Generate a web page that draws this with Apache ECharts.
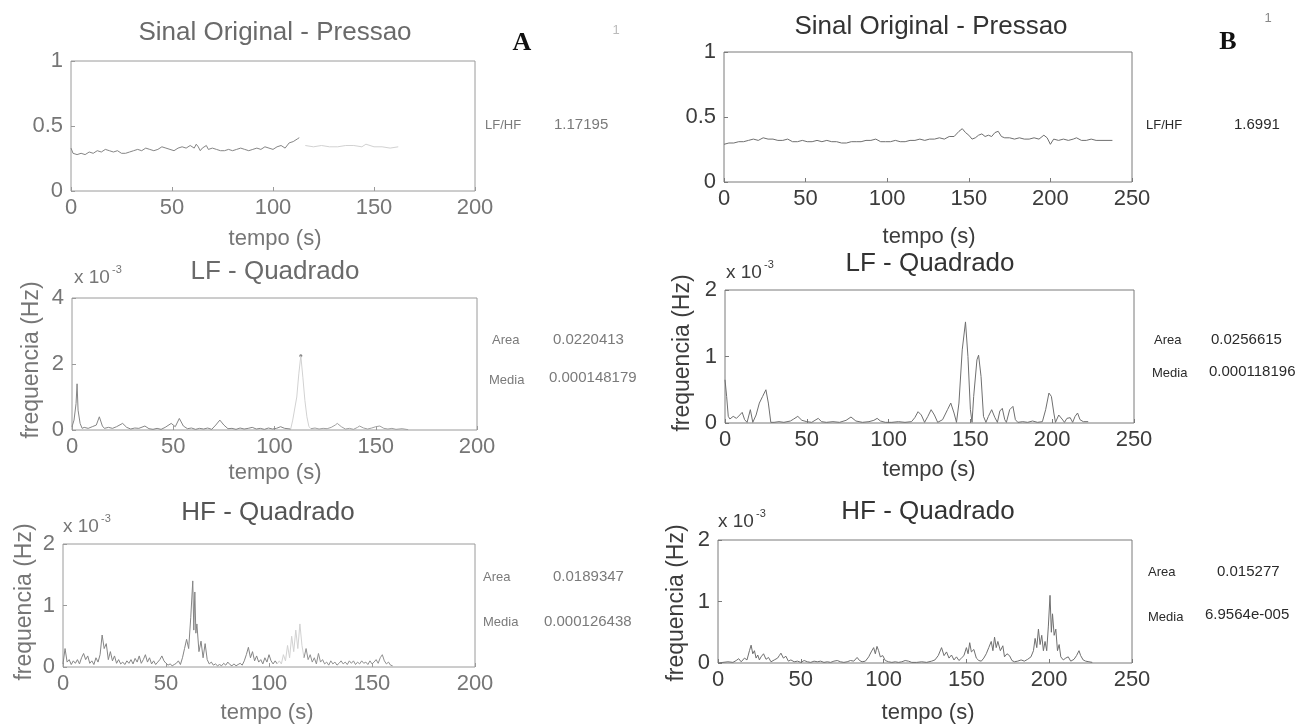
<!DOCTYPE html>
<html>
<head>
<meta charset="utf-8">
<script src="https://cdn.jsdelivr.net/npm/echarts@6/dist/echarts.min.js"></script>
<style>html,body{margin:0;padding:0;background:#fff;}#c{width:1304px;height:727px;}</style>
</head>
<body>
<div id="c"></div>
<script>
// ---------- tick labels ----------
const ticksX_A = [0, 50, 100, 150, 200];
const ticksX_B = [0, 50, 100, 150, 200, 250];
const ticksY_press = [0, 0.5, 1];
const ticksY_lfA = [0, 2, 4];
const ticksY_hf = [0, 1, 2];

// ---------- panel A : pressure (t s, value) ----------
const pressA_dark = [[0,0.33],[1,0.29],[3,0.28],[5,0.29],[7,0.28],[9,0.30],[11,0.29],[13,0.31],[15,0.30],[17,0.32],[19,0.31],[21,0.30],[23,0.31],[25,0.29],[27,0.29],[29,0.30],[31,0.31],[33,0.32],[35,0.31],[37,0.33],[39,0.32],[41,0.31],[43,0.32],[45,0.34],[47,0.33],[49,0.32],[51,0.31],[53,0.33],[55,0.34],[57,0.33],[59,0.35],[61,0.33],[62,0.36],[63,0.34],[64,0.31],[65,0.33],[67,0.35],[68,0.32],[70,0.33],[72,0.32],[74,0.31],[76,0.31],[78,0.32],[80,0.31],[82,0.32],[84,0.33],[86,0.32],[88,0.31],[90,0.32],[92,0.33],[94,0.32],[96,0.34],[98,0.33],[100,0.32],[102,0.34],[104,0.35],[106,0.33],[108,0.37],[110,0.38],[112,0.40],[113,0.41]];
const pressA_light = [[116,0.35],[120,0.34],[124,0.35],[128,0.34],[132,0.34],[136,0.35],[140,0.35],[144,0.34],[146,0.36],[148,0.35],[150,0.34],[154,0.34],[158,0.33],[162,0.34]];

// ---------- panel A : LF squared (x 1e-3) ----------
const lfA_dark1 = [[0,0.1],[1,0.3],[2,0.8],[2.5,1.4],[3,0.6],[4,0.2],[5,0.05],[6,0.08],[8,0.05],[10,0.1],[12,0.15],[13.5,0.4],[15,0.12],[16,0.05],[18,0.08],[20,0.05],[22,0.1],[25,0.2],[27,0.08],[29,0.03],[31,0.06],[33,0.05],[36,0.12],[38,0.04],[40,0.02],[42,0.05],[44,0.02],[46,0.08],[49,0.2],[51,0.1],[53,0.35],[55,0.12],[57,0.04],[59,0.06],[61,0.02],[63,0.05],[65,0.03],[67,0.06],[69,0.02],[71,0.15],[73,0.3],[75,0.15],[77,0.04],[79,0.05],[81,0.02],[83,0.06],[85,0.03],[87,0.05],[89,0.08],[91,0.03],[93,0.05],[95,0.02],[97,0.06],[99,0.03],[101,0.05],[103,0.1],[105,0.05],[108,0.03]];
const lfA_light = [[108,0.03],[109,0.3],[111,1.0],[112,1.7],[113,2.25],[114,1.6],[115,0.9],[116,0.4],[117,0.1],[118,0.04]];
const lfA_dark2 = [[118,0.04],[120,0.06],[122,0.03],[124,0.05],[126,0.04],[128,0.08],[130,0.15],[131,0.2],[133,0.1],[135,0.03],[137,0.05],[139,0.02],[141,0.08],[142,0.12],[144,0.06],[146,0.03],[148,0.06],[150,0.1],[152,0.12],[154,0.05],[156,0.03],[158,0.05],[160,0.02],[163,0.04],[166,0.01]];
const lfA_peakDot = [[113,2.25]];

// ---------- panel A : HF squared (x 1e-3) ----------
const hfA_dark1 = [[0,0.05],[1,0.3],[2,0.08],[3,0.12],[4,0.04],[5,0.1],[6,0.06],[7,0.12],[8,0.05],[9,0.15],[10,0.22],[11,0.12],[12,0.18],[13,0.06],[14,0.1],[15,0.04],[16,0.15],[17,0.08],[18,0.2],[19,0.52],[20,0.3],[21,0.38],[22,0.12],[23,0.25],[24,0.1],[25,0.18],[26,0.06],[27,0.12],[28,0.05],[29,0.08],[30,0.04],[31,0.1],[32,0.06],[33,0.12],[34,0.05],[35,0.14],[36,0.08],[37,0.18],[38,0.06],[39,0.12],[40,0.2],[41,0.08],[42,0.15],[43,0.05],[44,0.1],[45,0.04],[46,0.08],[47,0.12],[48,0.18],[49,0.1],[50,0.06],[51,0.03],[52,0.05],[53,0.02],[54,0.04],[55,0.06],[56,0.1],[57,0.04],[58,0.15],[59,0.3],[60,0.45],[61,0.3],[62,0.8],[63,1.4],[63.5,0.6],[64,1.22],[64.5,0.55],[65,0.7],[66,0.25],[67,0.42],[68,0.15],[69,0.38],[70,0.12],[71,0.05],[72,0.08],[73,0.03],[74,0.05],[75,0.02],[76,0.04],[77,0.02],[78,0.06],[79,0.03],[80,0.08],[81,0.04],[82,0.02],[83,0.05],[84,0.02],[85,0.04],[86,0.06],[87,0.03],[88,0.1],[89,0.2],[90,0.32],[91,0.15],[92,0.25],[93,0.1],[94,0.18],[95,0.08],[96,0.12],[97,0.05],[98,0.15],[99,0.08],[100,0.2],[101,0.1],[102,0.05],[103,0.1],[104,0.05]];
const hfA_light = [[104,0.05],[105,0.1],[106,0.05],[107,0.2],[108,0.1],[109,0.35],[110,0.15],[111,0.5],[112,0.25],[113,0.6],[114,0.3],[115,0.7],[116,0.35],[117,0.15]];
const hfA_dark2 = [[117,0.15],[118,0.3],[119,0.12],[120,0.2],[121,0.08],[122,0.15],[123,0.05],[124,0.22],[125,0.08],[126,0.12],[127,0.05],[128,0.08],[129,0.03],[130,0.1],[131,0.05],[132,0.08],[133,0.03],[134,0.06],[135,0.1],[136,0.05],[137,0.08],[138,0.04],[139,0.1],[140,0.06],[141,0.1],[142,0.04],[143,0.08],[144,0.05],[145,0.1],[146,0.06],[147,0.08],[148,0.04],[149,0.1],[150,0.05],[151,0.08],[152,0.12],[153,0.06],[154,0.15],[155,0.2],[156,0.1],[157,0.05],[158,0.08],[159,0.03],[160,0.02]];

// ---------- panel B : pressure ----------
const pressB = [[0,0.29],[3,0.30],[6,0.30],[9,0.31],[12,0.31],[15,0.32],[18,0.33],[21,0.32],[24,0.34],[27,0.33],[30,0.33],[33,0.32],[36,0.32],[39,0.33],[42,0.31],[45,0.31],[48,0.32],[51,0.31],[54,0.31],[57,0.32],[60,0.31],[63,0.32],[66,0.31],[69,0.31],[72,0.30],[75,0.30],[78,0.31],[81,0.31],[84,0.31],[87,0.32],[90,0.32],[93,0.33],[96,0.31],[99,0.31],[102,0.31],[105,0.32],[108,0.31],[111,0.31],[114,0.32],[117,0.32],[120,0.33],[123,0.32],[126,0.33],[129,0.33],[132,0.34],[135,0.33],[138,0.35],[141,0.35],[144,0.39],[146,0.41],[148,0.38],[150,0.36],[152,0.33],[154,0.34],[156,0.36],[158,0.37],[160,0.35],[162,0.36],[164,0.35],[166,0.38],[168,0.39],[170,0.35],[172,0.34],[175,0.34],[178,0.33],[181,0.34],[184,0.33],[187,0.33],[190,0.34],[193,0.33],[196,0.36],[198,0.34],[200,0.29],[202,0.33],[205,0.32],[208,0.33],[211,0.32],[214,0.33],[216,0.34],[219,0.32],[222,0.32],[225,0.33],[228,0.32],[231,0.32],[238,0.32]];

// ---------- panel B : LF squared (x 1e-3) ----------
const lfB = [[0,0.65],[1,0.4],[2,0.1],[3,0.06],[5,0.1],[7,0.07],[9,0.12],[10.5,0.16],[12,0.05],[13.5,0.01],[15.5,0.2],[17,0.01],[19,0.12],[21,0.3],[23,0.4],[25,0.5],[26.5,0.3],[28,0.01],[30,0.01],[33,0.02],[36,0.01],[40,0.03],[42,0.06],[44.5,0.1],[47,0.04],[50,0.02],[53,0.01],[55,0.04],[57,0.07],[59,0.02],[62,0.01],[66,0.02],[70,0.01],[74,0.04],[77,0.09],[80,0.03],[84,0.01],[88,0.02],[91,0.04],[93,0.07],[95,0.03],[98,0.01],[102,0.01],[106,0.02],[110,0.01],[114,0.02],[116,0.08],[118,0.17],[120,0.12],[122,0.01],[124,0.1],[126,0.2],[128,0.12],[130,0.01],[133,0.05],[136,0.2],[138,0.3],[140,0.15],[141.5,0.01],[143,0.3],[145,1.1],[147,1.52],[148.5,1.0],[150,0.2],[151,0.01],[152,0.4],[154,0.95],[155,1.02],[156.5,0.7],[158,0.1],[159.5,0.01],[161,0.1],[163,0.2],[165,0.08],[166.5,0.01],[168,0.18],[169.5,0.22],[171,0.05],[172,0.01],[174,0.2],[176,0.25],[177.5,0.05],[179,0.01],[182,0.02],[185,0.01],[188,0.03],[191,0.01],[194,0.02],[196,0.2],[198,0.45],[199.5,0.4],[201,0.15],[202,0.01],[204,0.12],[206,0.06],[207.5,0.01],[209,0.07],[211,0.08],[212.5,0.01],[214,0.1],[215.5,0.15],[217,0.05],[219,0.02],[222,0.02]];

// ---------- panel B : HF squared (x 1e-3) ----------
const hfB = [[0,0.0],[3,0.01],[6,0.02],[9,0.01],[11,0.04],[12.5,0.07],[14,0.02],[16,0.08],[17.5,0.05],[19,0.2],[20,0.29],[21,0.15],[22,0.2],[23,0.08],[24,0.13],[25,0.05],[26,0.1],[27.5,0.15],[29,0.06],[30.5,0.09],[32,0.02],[34,0.05],[36,0.08],[37,0.12],[38,0.16],[39.5,0.08],[41,0.11],[42.5,0.03],[44,0.05],[46,0.02],[48,0.03],[50,0.01],[52,0.04],[54,0.02],[56,0.01],[58,0.03],[60,0.02],[61,0.05],[62,0.03],[64,0.01],[66,0.02],[68,0.01],[70,0.03],[72,0.04],[74,0.02],[76,0.01],[78,0.02],[80,0.04],[82,0.03],[84,0.09],[85.5,0.04],[87,0.02],[89,0.03],[91,0.1],[92.5,0.18],[94,0.25],[95,0.15],[96,0.27],[97,0.2],[98,0.1],[99.5,0.12],[101,0.04],[103,0.02],[105,0.01],[107,0.02],[109,0.01],[111,0.02],[113,0.04],[115,0.03],[117,0.01],[120,0.01],[123,0.02],[126,0.01],[129,0.03],[131,0.05],[133,0.12],[135,0.25],[136.5,0.12],[138,0.18],[139.5,0.08],[141,0.13],[142.5,0.05],[144,0.1],[145.5,0.04],[147,0.08],[148.5,0.12],[150,0.25],[151,0.15],[152,0.33],[153,0.18],[154.5,0.22],[156,0.08],[157.5,0.04],[159,0.03],[160.5,0.08],[162,0.15],[163.5,0.25],[165,0.35],[166,0.2],[167,0.42],[168,0.25],[169,0.35],[170.5,0.2],[172,0.28],[173,0.1],[174.5,0.15],[176,0.12],[177.5,0.04],[179,0.02],[181,0.03],[183,0.05],[185,0.03],[187,0.06],[189,0.1],[190.5,0.2],[191.5,0.4],[192.5,0.25],[193.5,0.55],[194.5,0.3],[195.5,0.45],[196.5,0.2],[197.5,0.35],[198.5,0.2],[199.5,0.6],[200.5,1.1],[201.3,0.5],[202,0.8],[203,0.45],[204,0.55],[205,0.2],[206,0.3],[207,0.1],[208.5,0.05],[210,0.08],[211.5,0.1],[213,0.03],[215,0.06],[216.5,0.12],[218,0.2],[219,0.12],[220.5,0.05],[222,0.03],[224,0.02],[226,0.01]];

// ---------- side statistics ----------
const statsA = { lfhf: '1.17195', lfArea: '0.0220413', lfMedia: '0.000148179', hfArea: '0.0189347', hfMedia: '0.000126438' };
const statsB = { lfhf: '1.6991', lfArea: '0.0256615', lfMedia: '0.000118196', hfArea: '0.015277', hfMedia: '6.9564e-005' };

// ---------- layout ----------
const boxes = [
  {left:71,  top:61,  width:404, height:130},  // A1
  {left:72,  top:298, width:405, height:132},  // A2
  {left:63,  top:544, width:412, height:123},  // A3
  {left:724, top:52,  width:408, height:130},  // B1
  {left:725, top:290, width:409, height:133},  // B2
  {left:718, top:540, width:414, height:123}   // B3
];
const xt = [ticksX_A, ticksX_A, ticksX_A, ticksX_B, ticksX_B, ticksX_B];
const yt = [ticksY_press, ticksY_lfA, ticksY_hf, ticksY_press, ticksY_hf, ticksY_hf];

const FONT = 'Liberation Sans, Arial, sans-serif';
const CA = '#767676';   // panel A text
const CB = '#3c3c3c';   // panel B text
const textC = [CA, CA, CA, CB, CB, CB];
const boxC = ['#9a9a9a','#9a9a9a','#9a9a9a','#7a7a7a','#7a7a7a','#7a7a7a'];
const LINE_A = '#858585';
const LINE_B = '#6f6f6f';
const LIGHT_C = '#d2d2d2';

const grid = boxes.map((b,i) => ({left:b.left, top:b.top, width:b.width, height:b.height, show:true, borderColor:boxC[i], borderWidth:1, containLabel:false}));
const xAxis = xt.map((t,i) => ({
  type:'value', gridIndex:i, min:t[0], max:t[t.length-1], interval:t[1]-t[0],
  axisLine:{show:false}, splitLine:{show:false},
  axisTick:{show:true, inside:true, length:4, lineStyle:{color:boxC[i]}},
  axisLabel:{color:textC[i], fontSize:22, fontFamily:FONT, margin:6}
}));
const yAxis = yt.map((t,i) => ({
  type:'value', gridIndex:i, min:t[0], max:t[t.length-1], interval:t[1]-t[0],
  axisLine:{show:false}, splitLine:{show:false},
  axisTick:{show:true, inside:true, length:4, lineStyle:{color:boxC[i]}},
  axisLabel:{color:textC[i], fontSize:22, fontFamily:FONT, margin:8}
}));

function line(data, idx, color){
  return {type:'line', xAxisIndex:idx, yAxisIndex:idx, data:data, showSymbol:false, symbol:'none',
    lineStyle:{color:color, width:1}, itemStyle:{color:color}, silent:true, animation:false};
}
const series = [
  line(pressA_dark,0,LINE_A), line(pressA_light,0,LIGHT_C),
  line(lfA_dark1,1,LINE_A), line(lfA_light,1,LIGHT_C), line(lfA_dark2,1,'#a0a0a0'),
  {type:'scatter', xAxisIndex:1, yAxisIndex:1, data:lfA_peakDot, symbolSize:3, itemStyle:{color:'#555'}, silent:true},
  line(hfA_dark1,2,LINE_A), line(hfA_light,2,LIGHT_C), line(hfA_dark2,2,'#909090'),
  line(pressB,3,LINE_B), line(lfB,4,LINE_B), line(hfB,5,LINE_B)
];

function T(x, y, text, o){
  o = o || {};
  return {type:'text', x:x, y:y, rotation:o.rot||0, silent:true,
    style:{text:text, fill:o.color||CA, font:(o.weight||'normal')+' '+(o.size||22)+'px '+(o.family||FONT),
      textAlign:o.align||'center', textVerticalAlign:'middle'}};
}
const SIDE = 'Liberation Sans Narrow, Liberation Sans, Arial, sans-serif';
const g = [];
// titles
g.push(T(275,33,'Sinal Original - Pressao',{size:26,color:'#6a6a6a'}));
g.push(T(275,272,'LF - Quadrado',{size:26,color:'#6a6a6a'}));
g.push(T(268,513,'HF - Quadrado',{size:26,color:'#555'}));
g.push(T(931,27,'Sinal Original - Pressao',{size:26,color:'#333'}));
g.push(T(930,264,'LF - Quadrado',{size:26,color:'#333'}));
g.push(T(928,512,'HF - Quadrado',{size:26,color:'#333'}));
// panel letters
g.push(T(522,43,'A',{size:26,weight:'bold',family:'Liberation Serif, serif',color:'#111'}));
g.push(T(1228,42,'B',{size:26,weight:'bold',family:'Liberation Serif, serif',color:'#111'}));
g.push(T(616,30,'1',{size:13,color:'#bbb'}));
g.push(T(1268,18,'1',{size:13,color:'#888'}));
// x labels
[[275,239,CA],[275,473,CA],[267,713,CA],[929,237,CB],[929,470,CB],[928,713,CB]].forEach(p => g.push(T(p[0],p[1],'tempo (s)',{size:22,color:p[2]})));
// y labels
[[32,360,CA],[25,602,CA],[683,353,CB],[677,603,CB]].forEach(p => g.push(T(p[0],p[1],'frequencia (Hz)',{size:23,rot:Math.PI/2,color:p[2]})));
// x 10^-3
[[74,278,CA],[63,527,CA],[726,273,CB],[718,522,CB]].forEach(p => {
  g.push(T(p[0],p[1],'x 10',{size:19,align:'left',color:p[2]}));
  g.push(T(p[0]+38,p[1]-8,'-3',{size:11,align:'left',color:p[2]}));
});
// side stats A
const SA = '#7a7a7a', SB = '#2a2a2a';
g.push(T(485,125,'LF/HF',{size:13,align:'left',family:SIDE,color:SA}));
g.push(T(554,125,statsA.lfhf,{size:15,align:'left',family:SIDE,color:SA}));
g.push(T(492,340,'Area',{size:13,align:'left',family:SIDE,color:SA}));
g.push(T(553,340,statsA.lfArea,{size:15,align:'left',family:SIDE,color:SA}));
g.push(T(489,380,'Media',{size:13,align:'left',family:SIDE,color:SA}));
g.push(T(549,378,statsA.lfMedia,{size:15,align:'left',family:SIDE,color:SA}));
g.push(T(483,577,'Area',{size:13,align:'left',family:SIDE,color:SA}));
g.push(T(553,577,statsA.hfArea,{size:15,align:'left',family:SIDE,color:SA}));
g.push(T(483,622,'Media',{size:13,align:'left',family:SIDE,color:SA}));
g.push(T(544,622,statsA.hfMedia,{size:15,align:'left',family:SIDE,color:SA}));
// side stats B
g.push(T(1146,125,'LF/HF',{size:13,align:'left',family:SIDE,color:SB}));
g.push(T(1234,125,statsB.lfhf,{size:15,align:'left',family:SIDE,color:SB}));
g.push(T(1154,340,'Area',{size:13,align:'left',family:SIDE,color:SB}));
g.push(T(1211,340,statsB.lfArea,{size:15,align:'left',family:SIDE,color:SB}));
g.push(T(1152,373,'Media',{size:13,align:'left',family:SIDE,color:SB}));
g.push(T(1209,372,statsB.lfMedia,{size:15,align:'left',family:SIDE,color:SB}));
g.push(T(1148,572,'Area',{size:13,align:'left',family:SIDE,color:SB}));
g.push(T(1217,572,statsB.hfArea,{size:15,align:'left',family:SIDE,color:SB}));
g.push(T(1148,617,'Media',{size:13,align:'left',family:SIDE,color:SB}));
g.push(T(1205,615,statsB.hfMedia,{size:15,align:'left',family:SIDE,color:SB}));

const chart = echarts.init(document.getElementById('c'), null, {renderer:'canvas'});
chart.setOption({backgroundColor:'#fff', animation:false, grid:grid, xAxis:xAxis, yAxis:yAxis, series:series, graphic:g});
</script>
</body>
</html>
